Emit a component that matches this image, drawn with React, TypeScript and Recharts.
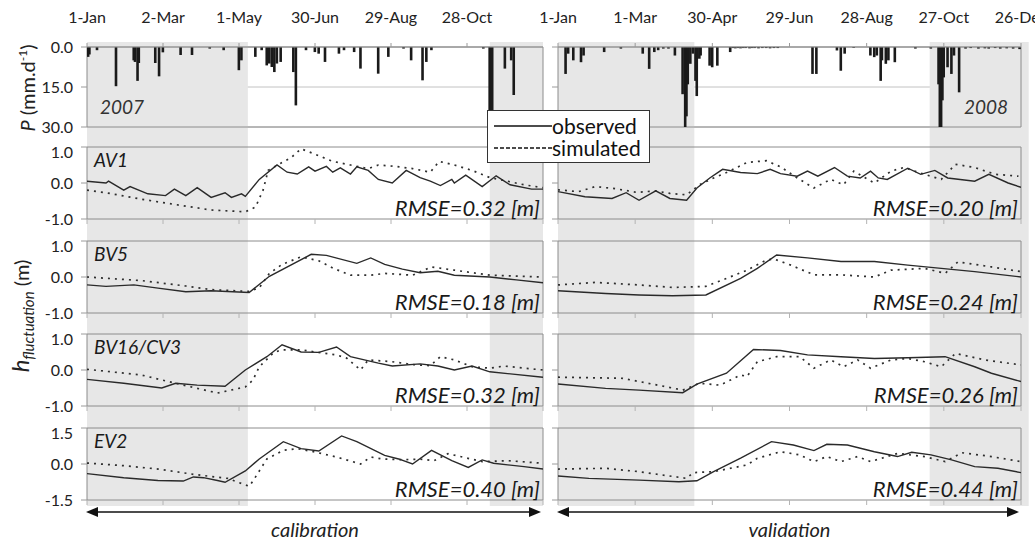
import React from 'react';
import { ComposedChart, LineChart, Line, Bar, XAxis, YAxis, CartesianGrid, ReferenceArea, Label } from 'recharts';

type Pt = [number, number];

const FONT = "Lato, 'Open Sans', sans-serif";
const INK = '#222';
const BOX = '#8c8c8c';
const SHADE = '#e7e7e7';

// x axis: day of year, ticks every 60 days
const dayTicks = [1, 61, 121, 181, 241, 301, 361];
const topTicks2007 = [1, 61, 121, 181, 241, 301];
const tickLabels2007 = ['1-Jan', '2-Mar', '1-May', '30-Jun', '29-Aug', '28-Oct'];
const tickLabels2008 = ['1-Jan', '1-Mar', '30-Apr', '29-Jun', '28-Aug', '27-Oct', '26-Dec'];

// grey bands (day ranges)
const bands2007: Pt[] = [[1, 128], [319, 361]];
const bands2008: Pt[] = [[1, 107], [290, 367]];

// daily rainfall events [day, mm]
const rain2007: Pt[] = [
  [2, 3.7], [3, 2.8], [9, 1.2], [24, 14.7], [38, 5], [39, 5.6], [41, 12.7], [42, 6], [55, 6], [58, 11],
  [61, 2], [75, 3], [84, 3], [98, 0.6], [109, 1.2], [121, 8.7], [123, 5], [134, 3.7], [139, 1.2],
  [143, 6.9], [145, 6.2], [147, 7.5], [149, 9.4], [151, 6.2], [154, 5.6], [164, 9.4], [166, 21.9],
  [174, 1.2], [181, 1.9], [184, 2.5], [189, 5.6], [200, 2.5], [204, 1.2], [212, 1.9], [217, 8.1],
  [231, 10], [239, 3.7], [251, 0.6], [257, 5], [266, 12.5], [269, 5.6], [273, 1.2], [314, 0.6],
  [319, 30], [320, 30], [321, 30], [331, 8.1], [336, 5], [338, 18],
];
const rain2008: Pt[] = [
  [7, 10.1], [9, 2.5], [13, 5], [19, 5.7], [21, 3.2], [37, 1.9], [50, 0.6], [67, 2.5], [72, 8.2],
  [76, 1.9], [79, 1.2], [83, 0.6], [87, 0.6], [92, 3.2], [98, 17.7], [100, 30], [101, 26], [102, 14],
  [104, 6.3], [106, 2.5], [108, 12.7], [109, 18.4], [111, 4.4], [112, 3.2], [119, 7], [121, 7.6],
  [125, 7], [135, 1.9], [137, 0.4], [139, 0.5], [141, 0.4], [143, 0.5], [145, 0.4], [147, 0.4],
  [150, 0.5], [152, 0.4], [154, 0.4], [157, 0.5], [160, 0.4], [163, 0.4], [166, 0.5], [169, 0.4],
  [172, 0.4], [199, 10.1], [202, 10.1], [218, 1.3], [221, 8.9], [224, 2.5], [231, 0.3], [244, 3.2],
  [247, 3.8], [249, 3.2], [252, 12.7], [253, 5], [256, 6.3], [258, 5], [263, 5.7], [279, 0.6],
  [291, 0.6], [297, 14], [298, 30], [299, 30], [300, 20], [301, 11.4], [304, 7.6], [307, 10.1],
  [309, 3.2], [313, 17], [318, 0.6], [322, 0.4], [328, 0.6], [333, 0.5], [336, 0.6], [341, 0.4],
  [345, 0.6], [350, 0.5], [355, 0.6], [360, 0.8],
];

// groundwater level fluctuation [day, m]
const av1Obs2007: Pt[] = [
  [1, 0.05], [16, 0.0], [18, 0.05], [30, -0.2], [35, -0.1], [49, -0.3], [63, -0.35], [70, -0.17],
  [79, -0.35], [88, -0.13], [99, -0.4], [110, -0.27], [115, -0.4], [123, -0.3], [126, -0.37],
  [137, 0.1], [151, 0.5], [159, 0.3], [167, 0.25], [176, 0.45], [181, 0.33], [190, 0.46], [195, 0.3],
  [201, 0.42], [209, 0.25], [214, 0.45], [223, 0.35], [231, 0.1], [242, 0.0], [253, 0.35], [264, 0.15],
  [272, 0.05], [280, -0.07], [289, 0.1], [291, 0.0], [300, 0.22], [313, -0.1], [324, 0.2], [335, -0.05],
  [352, -0.17], [361, -0.17],
];
const av1Sim2007: Pt[] = [
  [1, -0.2], [16, -0.27], [44, -0.45], [71, -0.6], [99, -0.75], [126, -0.8], [134, -0.67], [140, -0.2],
  [144, 0.35], [154, 0.55], [162, 0.7], [170, 0.95], [181, 0.8], [195, 0.6], [209, 0.5], [223, 0.4],
  [231, 0.5], [245, 0.46], [258, 0.4], [272, 0.3], [279, 0.6], [291, 0.5], [305, 0.35], [319, 0.15],
  [333, 0.05], [346, -0.05], [361, -0.13],
];
const bv5Obs2007: Pt[] = [
  [1, -0.22], [16, -0.26], [38, -0.22], [57, -0.31], [79, -0.41], [99, -0.38], [129, -0.43], [145, 0.02],
  [178, 0.63], [190, 0.6], [214, 0.38], [225, 0.53], [236, 0.35], [250, 0.22], [264, 0.12], [278, 0.16],
  [291, 0.05], [319, 0.0], [340, -0.08], [361, -0.16],
];
const bv5Sim2007: Pt[] = [
  [1, 0.0], [44, -0.1], [79, -0.25], [99, -0.35], [129, -0.4], [137, -0.3], [145, 0.1], [155, 0.35],
  [170, 0.56], [184, 0.45], [195, 0.25], [209, 0.05], [225, 0.05], [236, 0.1], [258, 0.05], [273, 0.28],
  [291, 0.19], [319, 0.05], [361, 0.0],
];
const bv16Obs2007: Pt[] = [
  [1, -0.26], [30, -0.37], [60, -0.5], [71, -0.37], [88, -0.42], [110, -0.45], [126, 0.0], [143, 0.37],
  [155, 0.7], [170, 0.5], [184, 0.49], [198, 0.64], [209, 0.37], [231, 0.19], [242, 0.11], [264, 0.17],
  [278, 0.11], [291, 0.0], [305, 0.11], [319, -0.05], [361, -0.2],
];
const bv16Sim2007: Pt[] = [
  [1, 0.02], [44, -0.14], [77, -0.42], [104, -0.64], [126, -0.47], [132, -0.28], [137, 0.09], [148, 0.47],
  [154, 0.56], [170, 0.56], [181, 0.5], [198, 0.42], [206, 0.33], [217, 0.0], [223, 0.28], [242, 0.23],
  [258, 0.15], [272, 0.12], [280, 0.37], [291, 0.28], [305, 0.09], [319, 0.05], [330, 0.11], [361, 0.0],
];
const ev2Obs2007: Pt[] = [
  [1, -0.4], [30, -0.57], [57, -0.69], [77, -0.71], [85, -0.54], [93, -0.57], [104, -0.69], [110, -0.76],
  [126, -0.29], [137, 0.21], [156, 0.93], [170, 0.64], [184, 0.54], [202, 1.17], [214, 0.93], [236, 0.36],
  [247, 0.21], [258, 0.0], [273, 0.57], [289, 0.14], [302, -0.14], [313, 0.17], [322, 0.03], [346, -0.11],
  [361, -0.21],
];
const ev2Sim2007: Pt[] = [
  [1, 0.04], [30, -0.07], [57, -0.21], [85, -0.43], [112, -0.6], [129, -0.93], [132, -0.71], [143, 0.21],
  [156, 0.57], [167, 0.64], [181, 0.5], [198, 0.29], [217, 0.0], [225, 0.29], [234, 0.21], [250, 0.18],
  [264, 0.2], [275, 0.14], [286, 0.43], [313, 0.1], [333, 0.14], [361, 0.03],
];

const av1Obs2008: Pt[] = [
  [1, -0.24], [22, -0.38], [43, -0.43], [54, -0.27], [64, -0.48], [77, -0.22], [88, -0.43], [101, -0.48],
  [109, -0.14], [119, 0.14], [129, 0.38], [143, 0.29], [156, 0.26], [166, 0.38], [174, 0.26], [187, 0.19],
  [195, 0.33], [203, 0.19], [216, 0.43], [226, 0.19], [236, 0.14], [244, 0.33], [250, 0.14], [257, 0.1],
  [273, 0.41], [283, 0.24], [294, 0.35], [304, 0.14], [325, 0.05], [336, 0.24], [351, 0.0], [361, -0.12],
];
const av1Sim2008: Pt[] = [
  [1, -0.19], [17, -0.24], [30, -0.1], [46, -0.16], [62, -0.26], [77, -0.22], [88, -0.29], [101, -0.33],
  [111, -0.05], [122, 0.14], [132, 0.29], [148, 0.57], [163, 0.62], [174, 0.45], [187, 0.14], [200, -0.14],
  [213, 0.1], [223, -0.05], [231, 0.33], [242, 0.1], [247, 0.0], [260, 0.33], [270, 0.43], [286, 0.24],
  [299, 0.1], [310, 0.52], [325, 0.43], [341, 0.24], [359, 0.19],
];
const bv5Obs2008: Pt[] = [
  [1, -0.38], [38, -0.46], [64, -0.5], [90, -0.52], [116, -0.5], [143, -0.04], [156, 0.24], [171, 0.61],
  [195, 0.53], [221, 0.43], [247, 0.43], [273, 0.33], [299, 0.24], [325, 0.15], [361, 0.0],
];
const bv5Sim2008: Pt[] = [
  [1, -0.22], [30, -0.15], [64, -0.22], [90, -0.29], [116, -0.26], [132, -0.04], [148, 0.19], [163, 0.47],
  [169, 0.5], [182, 0.33], [200, 0.06], [221, 0.06], [247, 0.0], [260, 0.19], [286, 0.24], [302, 0.1],
  [312, 0.42], [338, 0.28], [361, 0.15],
];
const bv16Obs2008: Pt[] = [
  [1, -0.39], [38, -0.51], [64, -0.56], [98, -0.63], [109, -0.39], [132, -0.09], [153, 0.57], [174, 0.54],
  [195, 0.42], [221, 0.37], [247, 0.32], [273, 0.34], [302, 0.37], [325, 0.09], [338, -0.09], [361, -0.32],
];
const bv16Sim2008: Pt[] = [
  [1, -0.2], [51, -0.23], [90, -0.5], [98, -0.56], [111, -0.37], [127, -0.42], [143, -0.14], [148, -0.18],
  [156, 0.23], [171, 0.37], [189, 0.37], [200, 0.05], [213, 0.28], [223, 0.09], [234, 0.28], [244, 0.05],
  [260, 0.28], [273, 0.32], [286, 0.23], [299, 0.09], [310, 0.46], [333, 0.28], [361, 0.14],
];
const ev2Obs2008: Pt[] = [
  [1, -0.5], [25, -0.6], [64, -0.67], [95, -0.74], [109, -0.7], [122, -0.32], [143, 0.24], [167, 0.93],
  [184, 0.79], [200, 0.56], [210, 0.82], [226, 0.79], [247, 0.51], [265, 0.31], [276, 0.49], [291, 0.38],
  [307, 0.17], [325, -0.11], [343, -0.18], [361, -0.36],
];
const ev2Sim2008: Pt[] = [
  [1, -0.21], [38, -0.18], [64, -0.32], [101, -0.6], [106, -0.36], [122, -0.32], [148, -0.04], [156, 0.24],
  [174, 0.51], [189, 0.38], [200, 0.1], [210, 0.31], [221, 0.1], [234, 0.31], [244, 0.1], [265, 0.44],
  [286, 0.31], [302, 0.1], [315, 0.47], [338, 0.31], [361, 0.1],
];

const wells = ['AV1', 'BV5', 'BV16/CV3', 'EV2'];
const rmse2007 = ['0.32', '0.18', '0.32', '0.40'];
const rmse2008 = ['0.20', '0.24', '0.26', '0.44'];
const wellTicks = [[-1, 0, 1], [-1, 0, 1], [-1, 0, 1], [-1.5, 0, 1.5]];

// layout
const YAXIS_W = 60;
const PANEL_TOPS = [147, 241, 334, 428];
const PANEL_H = 72;
const GAPS = [22, 21, 22, 6]; // grey band continues this far below each panel
const BAR_W = 2.6;

type Col = {
  plotLeft: number;
  plotWidth: number;
  year: string;
  yearPos: 'insideBottomLeft' | 'insideBottomRight';
  topTicks: number[];
  topLabels: string[];
  bands: Pt[];
  rain: Pt[];
  obs: Pt[][];
  sim: Pt[][];
  rmse: string[];
  showY: boolean;
  period: string;
};

const cols: Col[] = [
  {
    plotLeft: 87, plotWidth: 456, year: '2007', yearPos: 'insideBottomLeft',
    topTicks: topTicks2007, topLabels: tickLabels2007, bands: bands2007, rain: rain2007,
    obs: [av1Obs2007, bv5Obs2007, bv16Obs2007, ev2Obs2007],
    sim: [av1Sim2007, bv5Sim2007, bv16Sim2007, ev2Sim2007],
    rmse: rmse2007, showY: true, period: 'calibration',
  },
  {
    plotLeft: 558, plotWidth: 463, year: '2008', yearPos: 'insideBottomRight',
    topTicks: dayTicks, topLabels: tickLabels2008, bands: bands2008, rain: rain2008,
    obs: [av1Obs2008, bv5Obs2008, bv16Obs2008, ev2Obs2008],
    sim: [av1Sim2008, bv5Sim2008, bv16Sim2008, ev2Sim2008],
    rmse: rmse2008, showY: false, period: 'validation',
  },
];

const toRows = (pts: Pt[]) => pts.map(([day, v]) => ({ day, v }));

const tickStyle = { fontSize: 16, fill: INK, fontFamily: FONT };

function shade(bands: Pt[], y1: number, y2: number) {
  return bands.map(([a, b]) => (
    <ReferenceArea key={`s${a}`} x1={a} x2={b} y1={y1} y2={y2} fill={SHADE} fillOpacity={1} stroke="none" ifOverflow="visible" />
  ));
}

// daily bars are narrower than a day on this scale; widen them around their centre
const RainBar = (p: any) => {
  const h = Number(p.height) || 0;
  const top = h < 0 ? p.y + h : p.y;
  return <rect x={p.x + p.width / 2 - BAR_W / 2} y={top} width={BAR_W} height={Math.abs(h)} fill="#1a1a1a" />;
};

function RainPanel({ col }: { col: Col }) {
  // plot spans 47..127 px (0..30 mm); shading runs from 42 down to the first well panel at 147
  return (
    <div style={{ position: 'absolute', left: col.plotLeft - YAXIS_W, top: 0 }}>
      <ComposedChart
        width={YAXIS_W + col.plotWidth + 32}
        height={147}
        data={col.rain.map(([day, p]) => ({ day, p }))}
        margin={{ top: 17, right: 32, bottom: 20, left: 0 }}
      >
        {shade(col.bands, -1.9, 37.5)}
        <CartesianGrid vertical={false} stroke="#c2c2c2" />
        <XAxis
          dataKey="day" type="number" orientation="top" domain={[1, 361]} allowDataOverflow
          ticks={col.topTicks} interval={0} height={30} tickSize={4} tickMargin={20}
          axisLine={{ stroke: '#9a9a9a' }} tickLine={{ stroke: '#9a9a9a' }} tick={tickStyle}
          tickFormatter={(v: number) => col.topLabels[col.topTicks.indexOf(v)] ?? ''}
        />
        <YAxis
          reversed domain={[0, 30]} ticks={[0, 15, 30]} width={YAXIS_W} axisLine={false}
          tickSize={6} tickMargin={8} tickLine={{ stroke: '#9a9a9a' }} tick={tickStyle}
          tickFormatter={(v: number) => (col.showY ? v.toFixed(1) : '')}
        />
        <ReferenceArea x1={1} x2={361} y1={0} y2={30} fill="none" stroke={BOX} ifOverflow="visible">
          <Label value={col.year} position={col.yearPos} offset={13} fontSize={19} fontStyle="italic" fill="#333" />
        </ReferenceArea>
        <Bar dataKey="p" fill="#1a1a1a" barSize={1} shape={RainBar} isAnimationActive={false} />
      </ComposedChart>
    </div>
  );
}

function WellPanel({ col, i }: { col: Col; i: number }) {
  const ticks = wellTicks[i];
  const lo = ticks[0];
  const hi = ticks[2];
  const gap = GAPS[i];
  const below = lo - (gap * (hi - lo)) / PANEL_H;
  return (
    <div style={{ position: 'absolute', left: col.plotLeft - YAXIS_W, top: PANEL_TOPS[i] - 4 }}>
      <LineChart
        width={YAXIS_W + col.plotWidth + 14}
        height={4 + PANEL_H + Math.max(gap, 10)}
        margin={{ top: 4, right: 14, bottom: Math.max(gap, 10) - 8, left: 0 }}
      >
        {shade(col.bands, below, hi)}
        <XAxis
          dataKey="day" type="number" domain={[1, 361]} allowDataOverflow ticks={dayTicks} interval={0}
          height={8} tickSize={5} axisLine={false} tickLine={{ stroke: '#b4b4b4' }} tickFormatter={() => ''}
        />
        <YAxis
          domain={[lo, hi]} ticks={ticks} width={YAXIS_W} axisLine={false} allowDataOverflow
          tickSize={6} tickMargin={8} tickLine={{ stroke: '#9a9a9a' }} tick={tickStyle}
          tickFormatter={(v: number) => (col.showY ? v.toFixed(1) : '')}
        />
        <ReferenceArea x1={1} x2={361} y1={lo} y2={hi} fill="none" stroke={BOX} ifOverflow="visible">
          {col.showY && (
            <Label value={wells[i]} position="insideTopLeft" offset={7} fontSize={19} fontStyle="italic" fill="#1a1a1a" />
          )}
        </ReferenceArea>
        <ReferenceArea x1={1} x2={361} y1={lo} y2={hi} fill="none" stroke="none" ifOverflow="visible">
          <Label value={`RMSE=${col.rmse[i]} [m]`} position="insideBottomRight" offset={3} fontSize={22} fontStyle="italic" fill="#1a1a1a" />
        </ReferenceArea>
        <Line
          data={toRows(col.sim[i])} dataKey="v" type="linear" stroke="#2e2e2e" strokeWidth={1.7}
          strokeDasharray="2 5" dot={false} isAnimationActive={false}
        />
        <Line
          data={toRows(col.obs[i])} dataKey="v" type="linear" stroke="#2a2a2a" strokeWidth={1.4}
          dot={false} isAnimationActive={false}
        />
      </LineChart>
    </div>
  );
}

function Overlay() {
  const arrow = (x1: number, x2: number, y: number) => (
    <g>
      <line x1={x1 + 8} x2={x2 - 8} y1={y} y2={y} stroke="#111" strokeWidth={1.5} />
      <polygon points={`${x1},${y} ${x1 + 12},${y - 5} ${x1 + 12},${y + 5}`} fill="#111" />
      <polygon points={`${x2},${y} ${x2 - 12},${y - 5} ${x2 - 12},${y + 5}`} fill="#111" />
    </g>
  );
  return (
    <svg width={1035} height={542} style={{ position: 'absolute', left: 0, top: 0, pointerEvents: 'none' }}>
      <text transform="translate(35,88) rotate(-90)" textAnchor="middle" fontSize={20} fill={INK}>
        <tspan fontStyle="italic">P</tspan>
        <tspan> (mm.d</tspan>
        <tspan fontSize={12} dy={-8}>-1</tspan>
        <tspan dy={8}>)</tspan>
      </text>
      <text transform="translate(29,316) rotate(-90)" textAnchor="middle" fontSize={20} fill={INK}>
        <tspan fontStyle="italic" fontSize={24}>h</tspan>
        <tspan fontStyle="italic" fontSize={15} dy={5}>fluctuation</tspan>
        <tspan dy={-5}> (m)</tspan>
      </text>
      {cols.map((c) => (
        <g key={c.year}>
          {arrow(c.plotLeft - 1, c.plotLeft + c.plotWidth - 2, 512)}
          <text x={c.plotLeft + c.plotWidth / 2} y={537} textAnchor="middle" fontSize={20} fontStyle="italic" fill={INK}>
            {c.period}
          </text>
        </g>
      ))}
    </svg>
  );
}

function LegendBox() {
  const row = (label: string, dash: string | undefined) => (
    <div style={{ display: 'flex', alignItems: 'center', height: 22 }}>
      <svg width={62} height={10}>
        <line x1={4} x2={62} y1={5} y2={5} stroke="#111" strokeWidth={1.4} strokeDasharray={dash} />
      </svg>
      <span style={{ fontSize: 21, color: '#111', lineHeight: '22px' }}>{label}</span>
    </div>
  );
  return (
    <div
      style={{
        position: 'absolute', left: 487, top: 110, width: 163, height: 53, boxSizing: 'border-box',
        border: '1.5px solid #333', background: '#fff', padding: '4px 0 0 2px',
      }}
    >
      {row('observed', undefined)}
      {row('simulated', '4 2')}
    </div>
  );
}

export default function App() {
  return (
    <div
      style={{
        position: 'absolute', left: 0, top: 0, width: 1035, height: 542, overflow: 'hidden',
        background: '#fff', fontFamily: FONT,
      }}
    >
      {cols.map((c) => <RainPanel key={`r${c.year}`} col={c} />)}
      {cols.map((c) => wells.map((w, i) => <WellPanel key={`${c.year}${w}`} col={c} i={i} />))}
      <Overlay />
      <LegendBox />
    </div>
  );
}
